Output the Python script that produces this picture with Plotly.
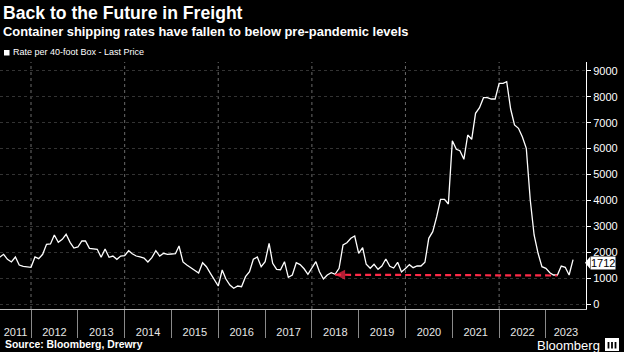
import pandas as pd
import plotly.graph_objects as go

# ---------------- data ----------------
start_month = "2011-05-01"
rate_values = [
    1803, 1919, 1726, 1622, 1815, 1506, 1450, 1425,            # 2011 May-Dec
    1417, 1815, 1749, 1919, 2305, 2317, 2664, 2382, 2498, 2691, 2382, 2162,  # 2012
    2201, 2432, 2432, 2150, 2130, 2112, 1803, 2124, 1803, 1853, 1726, 1853,  # 2013
    1865, 2058, 1942, 1853, 1815, 1776, 1622, 1788, 2058, 1853, 1958, 1919,  # 2014
    1930, 1942, 2239, 1622, 1506, 1402, 1300, 1197, 1595, 1440, 1185, 940,   # 2015
    695, 1313, 965, 734, 606, 695, 668, 1054, 1247, 1726, 1815, 1440,        # 2016
    1633, 2344, 1571, 1340, 1324, 1633, 1031, 1120, 1595, 1520, 1360, 1147,  # 2017
    1417, 1633, 1247, 965, 1120, 1208, 1147, 1378, 2278, 2367, 2537, 2625,   # 2018
    1958, 2174, 1533, 1378, 1533, 1340, 1467, 1737, 1455, 1390, 1610, 1235,  # 2019
    1370, 1520, 1402, 1467, 1467, 1610, 2537, 2792, 3371, 4042, 4042, 3861,  # 2020
    6305, 5973, 5919, 5587, 6525, 6359, 7363, 7579, 7965, 7965, 7915, 7915,  # 2021
    8521, 8521, 8583, 7529, 6911, 6784, 6459, 6012, 4015, 2664, 1958, 1440,  # 2022
    1378, 1208, 1120, 1120, 1467, 1417, 1120, 1712,                          # 2023 Jan-Aug
]
rate_dates = pd.date_range(start_month, periods=len(rate_values), freq="MS")

red_dates = ["2018-07-01", "2023-04-01"]
red_values = [1130, 1100]

years = list(range(2011, 2024))
y_ticks = list(range(0, 10000, 1000))
grid_years = [2012, 2014, 2016, 2018, 2020, 2022]

x_range = [pd.Timestamp("2011-05-04"), pd.Timestamp("2023-11-10")]
y_range = [-193, 9344]

title = "Back to the Future in Freight"
subtitle = "Container shipping rates have fallen to below pre-pandemic levels"
legend_label = "Rate per 40-foot Box - Last Price"
source = "Source: Bloomberg, Drewry"

# ---------------- layout geometry ----------------
W, H = 624, 352
ML, MR, MT, MB = 0, 38, 62, 43
PW, PH = W - ML - MR, H - MT - MB


def px(x):
    return (x - ML) / PW


def py(y):
    return (H - MB - y) / PH


FONT = "Liberation Sans, Arial, sans-serif"

fig = go.Figure()

fig.add_trace(go.Scatter(
    x=rate_dates, y=rate_values, mode="lines",
    line=dict(color="white", width=1.3), hoverinfo="skip",
))

fig.add_trace(go.Scatter(
    x=red_dates, y=red_values, mode="lines+markers",
    line=dict(color="#ff2a48", width=2.2, dash="6px,4px"),
    marker=dict(symbol=["arrow-left", "circle"], size=[10, 0], color="#ff2a48",
                line=dict(width=0)),
    hoverinfo="skip",
))

# x tick labels centred in the visible part of each year
tick_pos, tick_txt = [], []
for yr in years:
    a = max(pd.Timestamp(f"{yr}-01-01"), x_range[0])
    b = min(pd.Timestamp(f"{yr + 1}-01-01"), x_range[1])
    tick_pos.append(a + (b - a) / 2)
    tick_txt.append(str(yr))

shapes = []
for gy in grid_years:
    shapes.append(dict(type="line", xref="x", yref="paper",
                       x0=f"{gy}-01-01", x1=f"{gy}-01-01", y0=0, y1=1,
                       line=dict(color="#6a6a6a", width=1, dash="dot"), layer="below"))

# legend square
shapes.append(dict(type="rect", xref="paper", yref="paper",
                   x0=px(4), x1=px(9.5), y0=py(55.5), y1=py(50),
                   fillcolor="white", line=dict(width=0)))

# last price pointer
last_v = rate_values[-1]
dv = 6 / PH * (y_range[1] - y_range[0])
shift_v = 3 / PH * (y_range[1] - y_range[0])
shapes.append(dict(type="path", xref="paper", yref="y",
                   path=f"M {px(585)} {last_v - shift_v} L {px(590)} {last_v - shift_v + dv} "
                        f"L {px(590)} {last_v - shift_v - dv} Z",
                   fillcolor="white", line=dict(width=0)))

# bloomberg icon
shapes.append(dict(type="rect", xref="paper", yref="paper",
                   x0=px(605), x1=px(619), y0=py(351), y1=py(338),
                   fillcolor="white", line=dict(width=0)))
for bx in (608.5, 612, 615.5):
    shapes.append(dict(type="line", xref="paper", yref="paper",
                       x0=px(bx), x1=px(bx), y0=py(348.5), y1=py(342),
                       line=dict(color="black", width=1.8)))

annotations = [
    dict(text=f"<b>{title}</b>", x=px(1), y=py(13), xref="paper", yref="paper",
         xanchor="left", yanchor="middle", showarrow=False,
         font=dict(size=17.6, color="white", family=FONT)),
    dict(text=f"<b>{subtitle}</b>", x=px(1), y=py(31), xref="paper", yref="paper",
         xanchor="left", yanchor="middle", showarrow=False,
         font=dict(size=12.9, color="white", family=FONT)),
    dict(text=legend_label, x=px(11), y=py(52.5), xref="paper", yref="paper",
         xanchor="left", yanchor="middle", showarrow=False,
         font=dict(size=9, color="white", family=FONT)),
    dict(text=f"<b>{source}</b>", x=px(3), y=py(344), xref="paper", yref="paper",
         xanchor="left", yanchor="middle", showarrow=False,
         font=dict(size=10.4, color="white", family=FONT)),
    dict(text="Bloomberg", x=px(602), y=py(345), xref="paper", yref="paper",
         xanchor="right", yanchor="middle", showarrow=False,
         font=dict(size=13, color="white", family=FONT)),
    dict(text=str(last_v), x=px(590), y=last_v, yshift=-3, xref="paper", yref="y",
         xanchor="left", yanchor="middle", showarrow=False,
         bgcolor="white", borderpad=0,
         font=dict(size=11, color="black", family=FONT)),
]

fig.update_layout(
    width=W, height=H,
    margin=dict(l=ML, r=MR, t=MT, b=MB, pad=0),
    paper_bgcolor="black", plot_bgcolor="black",
    showlegend=False,
    font=dict(family=FONT, color="white"),
    shapes=shapes, annotations=annotations,
    xaxis=dict(
        type="date", range=x_range,
        tickvals=tick_pos, ticktext=tick_txt, ticks="", ticklen=0,
        showgrid=False, zeroline=False,
        showline=True, linecolor="#bdbdbd", linewidth=1,
        tickfont=dict(size=11, color="#e6e6e6", family=FONT),
        ticklabelstandoff=13,
        minor=dict(ticks="outside", ticklen=28, tickcolor="#8a8a8a", tickwidth=1,
                   dtick="M12", tick0="2012-01-01", showgrid=False),
        fixedrange=True,
    ),
    yaxis=dict(
        side="right", range=y_range,
        tickvals=y_ticks, ticks="outside", ticklen=4, tickcolor="white",
        showline=True, linecolor="white", linewidth=1,
        showgrid=True, gridcolor="#333333", griddash="dot", gridwidth=1,
        zeroline=False,
        tickfont=dict(size=11, color="white", family=FONT),
        fixedrange=True,
    ),
)

fig.write_html("out.html")
